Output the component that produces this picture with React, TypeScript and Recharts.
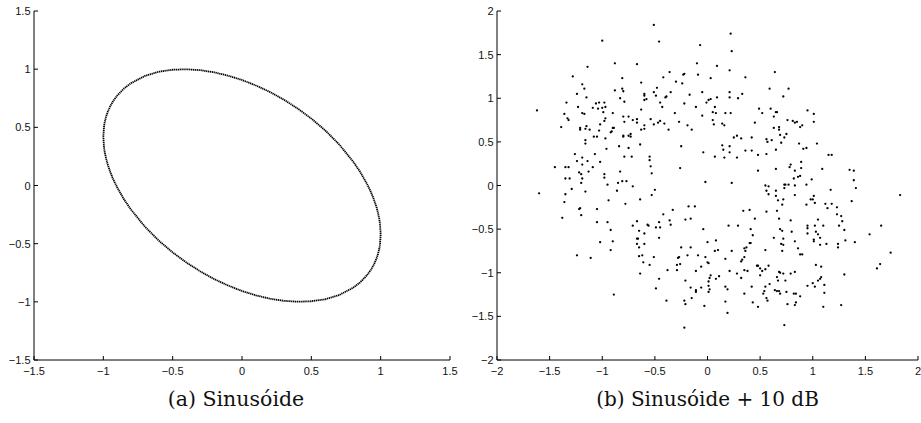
import React from 'react';
import { ScatterChart, Scatter, XAxis, YAxis } from 'recharts';

// (a) clean sinusoid: upper and lower branch of the ellipse
const ellipseUpper: [number, number][] = [
  [-1, 0.42], [-0.995, 0.509], [-0.99, 0.544], [-0.98, 0.592], [-0.97, 0.628], [-0.95, 0.682],
  [-0.93, 0.724], [-0.9, 0.773], [-0.85, 0.835], [-0.8, 0.88], [-0.7, 0.942], [-0.6, 0.978],
  [-0.5, 0.995], [-0.4, 0.999], [-0.3, 0.991], [-0.2, 0.973], [-0.1, 0.944], [0, 0.907],
  [0.1, 0.86], [0.2, 0.805], [0.3, 0.739], [0.4, 0.663], [0.5, 0.575], [0.6, 0.474],
  [0.7, 0.354], [0.8, 0.208], [0.85, 0.121], [0.9, 0.017], [0.93, -0.057], [0.95, -0.116],
  [0.97, -0.187], [0.98, -0.231], [0.99, -0.288], [0.995, -0.327], [1, -0.42],
];
const ellipseLower: [number, number][] = [
  [1, -0.42], [0.995, -0.509], [0.99, -0.544], [0.98, -0.592], [0.97, -0.628], [0.95, -0.682],
  [0.93, -0.724], [0.9, -0.773], [0.85, -0.835], [0.8, -0.88], [0.7, -0.942], [0.6, -0.978],
  [0.5, -0.995], [0.4, -0.999], [0.3, -0.991], [0.2, -0.973], [0.1, -0.944], [0, -0.907],
  [-0.1, -0.86], [-0.2, -0.805], [-0.3, -0.739], [-0.4, -0.663], [-0.5, -0.575], [-0.6, -0.474],
  [-0.7, -0.354], [-0.8, -0.208], [-0.85, -0.121], [-0.9, -0.017], [-0.93, 0.057], [-0.95, 0.116],
  [-0.97, 0.187], [-0.98, 0.231], [-0.99, 0.288], [-0.995, 0.327], [-1, 0.42],
];

// (b) sinusoid + 10 dB noise, one array per quadrant of the plot
const noisyUpperLeft: [number, number][] = [
  [-0.51, 1.84], [-1.0, 1.66], [-0.46, 1.65], [-1.14, 1.36], [-0.88, 1.4], [-0.67, 1.39], [-1.28, 1.25],
  [-0.81, 1.23], [-0.36, 1.3], [-0.42, 1.24], [-0.63, 1.18], [-0.23, 1.27], [-0.22, 1.28], [-1.19, 1.16],
  [-1.17, 1.11], [-1.24, 1.05], [-0.24, 1.17], [-0.3, 1.19], [-0.35, 1.07], [-0.51, 1.07], [-0.49, 1.03],
  [-0.48, 1.12], [-0.88, 1.09], [-0.81, 1.11], [-0.8, 1.08], [-0.6, 1.05], [-0.6, 1.03], [-0.4, 1.01],
  [-0.39, 1.02], [-0.83, 1.0], [-0.79, 0.96], [-1.15, 1.01], [-1.34, 0.95], [-0.45, 0.95], [-0.43, 0.9],
  [-0.17, 1.04], [-0.11, 0.9], [-1.36, 0.82], [-1.33, 0.77], [-1.32, 0.75], [-1.39, 0.67], [-1.62, 0.86],
  [-1.23, 0.9], [-1.19, 0.83], [-1.17, 0.82], [-1.21, 0.66], [-1.21, 0.64], [-1.15, 0.68], [-1.16, 0.65],
  [-1.09, 0.89], [-1.06, 0.94], [-1.03, 0.95], [-0.98, 0.95], [-0.97, 0.9], [-1.04, 0.88], [-1.0, 0.89],
  [-0.99, 0.84], [-0.97, 0.77], [-0.98, 0.74], [-1.02, 0.7], [-1.16, 0.52], [-1.16, 0.48], [-1.08, 0.56],
  [-1.05, 0.56], [-1.12, 0.64], [-0.97, 0.54], [-1.03, 0.63], [-0.91, 0.62], [-0.9, 0.66], [-0.89, 0.66],
  [-0.92, 0.61], [-0.9, 0.83], [-0.8, 0.79], [-0.79, 0.73], [-0.75, 0.79], [-0.71, 0.75], [-0.67, 0.76],
  [-0.67, 0.72], [-0.8, 0.57], [-0.8, 0.56], [-0.75, 0.57], [-0.73, 0.59], [-0.73, 0.56], [-0.84, 0.45],
  [-0.75, 0.43], [-0.79, 0.33], [-0.72, 0.33], [-0.64, 0.47], [-0.63, 0.64], [-0.6, 0.65], [-0.6, 0.69],
  [-0.63, 0.87], [-0.6, 0.98], [-0.58, 0.99], [-0.54, 0.76], [-0.51, 0.7], [-0.55, 0.33], [-0.55, 0.29],
  [-0.54, 0.22], [-0.53, 0.14], [-0.47, 0.72], [-0.45, 0.74], [-0.41, 0.71], [-0.37, 0.64], [-0.31, 0.83],
  [-0.27, 0.73], [-0.26, 0.2], [-0.25, 0.45], [-0.22, 0.94], [-0.19, 0.69], [-0.15, 0.64], [-1.45, 0.21],
  [-1.35, 0.21], [-1.32, 0.21], [-1.35, 0.08], [-1.31, 0.08], [-1.26, 0.36], [-1.24, 0.28], [-1.19, 0.24],
  [-1.19, 0.32], [-1.22, 0.15], [-1.2, 0.13], [-1.19, 0.08], [-1.14, 0.28], [-1.13, 0.16], [-1.09, 0.21],
  [-1.07, 0.36], [-1.02, 0.27], [-0.98, 0.13], [-0.98, 0.09], [-0.96, 0.42], [-0.83, 0.16],
];
const noisyUpperRight: [number, number][] = [
  [-0.07, 1.61], [0.22, 1.74], [0.23, 1.54], [-0.1, 1.4], [0.09, 1.37], [0.21, 1.32], [-0.09, 1.27],
  [0.03, 1.23], [0.36, 1.24], [0.64, 1.3], [-0.05, 1.07], [0.21, 1.07], [0.33, 1.05], [0.09, 1.01],
  [0.21, 1.01], [0.29, 1.0], [0.03, 0.99], [0.01, 0.98], [-0.01, 0.95], [0.59, 1.11], [0.77, 1.11],
  [0.72, 1.02], [0.07, 0.9], [0.05, 0.84], [0.08, 0.83], [0.17, 0.83], [0.22, 0.83], [-0.05, 0.8],
  [0.49, 0.88], [0.6, 0.88], [0.52, 0.83], [0.65, 0.84], [0.66, 0.84], [0.63, 0.79], [0.95, 0.86],
  [1.01, 0.82], [1.01, 0.73], [0.05, 0.75], [0.14, 0.71], [0.16, 0.69], [0.06, 0.7], [0.45, 0.72],
  [0.76, 0.75], [0.81, 0.74], [0.83, 0.72], [0.85, 0.73], [0.9, 0.69], [0.88, 0.67], [0.63, 0.66],
  [0.68, 0.67], [0.68, 0.64], [0.25, 0.55], [0.28, 0.57], [0.32, 0.54], [0.42, 0.55], [0.56, 0.53],
  [0.57, 0.5], [0.61, 0.52], [0.69, 0.58], [0.73, 0.55], [0.75, 0.59], [0.7, 0.49], [0.87, 0.48],
  [0.91, 0.42], [0.94, 0.43], [1.04, 0.48], [0.14, 0.46], [0.21, 0.45], [0.15, 0.41], [0.21, 0.38],
  [-0.04, 0.38], [0.07, 0.33], [0.16, 0.32], [0.28, 0.32], [0.36, 0.4], [0.42, 0.4], [0.48, 0.35],
  [0.56, 0.36], [0.65, 0.41], [1.15, 0.35], [1.18, 0.35], [0.89, 0.27], [0.79, 0.24], [0.78, 0.21],
  [0.65, 0.19], [0.83, 0.17], [0.89, 0.2], [1.09, 0.19], [0.48, 0.17], [0.86, 0.1], [0.88, 0.11],
  [0.82, 0.08], [0.99, 0.07], [1.35, 0.18], [1.39, 0.17],
];
const noisyLowerLeft: [number, number][] = [
  [-1.6, -0.09], [-1.35, -0.1], [-1.36, -0.19], [-1.38, -0.37], [-1.29, -0.04], [-1.2, 0.03], [-1.16, -0.07],
  [-1.22, -0.27], [-1.21, -0.26], [-1.2, -0.34], [-1.24, -0.8], [-1.11, -0.83], [-1.05, -0.27], [-1.05, -0.42],
  [-1.02, -0.65], [-0.95, 0.01], [-0.94, -0.17], [-0.95, -0.42], [-0.92, -0.51], [-0.9, -0.64], [-0.92, -0.74],
  [-0.89, -1.25], [-0.86, -0.06], [-0.85, 0.03], [-0.81, 0.05], [-0.77, 0.05], [-0.78, -0.21], [-0.71, -0.01],
  [-0.64, -0.16], [-0.71, -0.46], [-0.67, -0.41], [-0.65, -0.52], [-0.67, -0.61], [-0.66, -0.61], [-0.67, -0.67],
  [-0.65, -0.71], [-0.65, -0.81], [-0.62, -0.8], [-0.61, -0.88], [-0.64, -1.01], [-0.6, -0.55], [-0.6, -0.67],
  [-0.57, -0.45], [-0.56, -0.46], [-0.55, -0.91], [-0.53, -0.11], [-0.5, -0.05], [-0.49, -0.48], [-0.51, -0.82],
  [-0.46, -0.42], [-0.45, -0.48], [-0.46, -0.6], [-0.46, -1.07], [-0.49, -1.18], [-0.42, -0.33], [-0.39, -1.32],
  [-0.38, -0.97], [-0.36, -0.4], [-0.35, -0.45], [-0.33, -0.28], [-0.29, -0.97], [-0.28, -0.83], [-0.27, -0.82],
  [-0.29, -0.91], [-0.26, -0.9], [-0.25, -0.71], [-0.21, -0.39], [-0.22, -1.32], [-0.21, -1.36], [-0.22, -1.63],
  [-0.18, -0.24], [-0.21, -1.09], [-0.19, -0.8],
];
const noisyLowerRight: [number, number][] = [
  [1.39, 0.06], [-0.02, 0.04], [0.23, 0.03], [0.55, 0.0], [0.58, -0.01], [0.73, 0.01], [0.74, 0.01],
  [0.77, 0.01], [0.83, 0.0], [0.94, 0.01], [0.73, -0.03], [1.41, -0.03], [0.56, -0.06], [0.58, -0.1],
  [0.65, -0.06], [0.65, -0.12], [0.83, -0.11], [1.01, -0.12], [0.98, -0.16], [1.0, -0.16], [1.02, -0.2],
  [1.17, -0.05], [1.37, -0.18], [1.83, -0.11], [0.67, -0.17], [0.72, -0.16], [0.71, -0.22], [0.94, -0.22],
  [1.12, -0.21], [1.14, -0.26], [1.18, -0.21], [1.23, -0.25], [1.23, -0.33], [1.27, -0.35], [1.28, -0.41],
  [1.25, -0.46], [1.3, -0.51], [1.31, -0.63], [1.24, -0.67], [1.24, -0.71], [1.4, -0.65], [1.54, -0.56],
  [1.65, -0.46], [1.74, -0.77], [1.64, -0.9], [1.61, -0.95], [1.3, -1.02], [1.27, -1.37], [1.1, -1.39],
  [1.11, -1.23], [1.11, -1.14], [1.03, -0.91], [1.08, -0.93], [1.08, -1.05], [1.07, -1.07], [1.05, -1.09],
  [1.02, -1.16], [1.0, -1.12], [0.95, -1.15], [1.05, -0.39], [1.1, -0.46], [1.02, -0.46], [0.95, -0.46],
  [0.95, -0.49], [0.95, -0.55], [1.03, -0.53], [1.05, -0.56], [1.07, -0.6], [1.01, -0.62], [1.01, -0.64],
  [1.07, -0.68], [1.13, -0.67], [0.8, -0.53], [0.79, -0.4], [0.68, -0.38], [0.66, -0.29], [0.56, -0.3],
  [0.69, -0.5], [0.71, -0.52], [0.63, -0.6], [0.72, -0.61], [0.7, -0.67], [0.72, -0.68], [0.71, -0.75],
  [0.83, -0.64], [0.86, -0.72], [0.88, -0.79], [0.9, -0.79], [0.55, -0.74], [0.45, -0.38], [0.4, -0.28],
  [0.34, -0.29], [0.29, -0.46], [0.2, -0.46], [0.41, -0.5], [0.43, -0.57], [0.41, -0.66], [0.4, -0.66],
  [0.36, -0.75], [0.35, -0.72], [0.37, -0.71], [0.33, -0.85], [0.32, -0.87], [0.35, -0.82], [0.23, -0.75],
  [0.17, -0.84], [0.08, -0.63], [0.1, -0.74], [0.07, -0.75], [0.0, -0.65], [-0.04, -0.5], [-0.02, -0.82],
  [-0.09, -0.8], [-0.16, -0.71], [-0.12, -0.24], [-0.16, -0.38], [-0.06, -0.93], [-0.11, -0.98], [0.0, -0.88],
  [0.01, -0.89], [0.03, -1.03], [0.02, -1.06], [0.01, -1.1], [0.01, -1.15], [0.02, -1.19], [0.01, -1.22],
  [0.08, -1.07], [0.11, -1.04], [-0.06, -1.17], [-0.16, -1.17], [-0.11, -1.2], [-0.11, -1.22], [-0.15, -1.29],
  [-0.03, -1.38], [0.17, -1.16], [0.19, -1.19], [0.17, -1.33], [0.19, -1.46], [0.21, -0.98], [0.28, -1.01],
  [0.32, -1.06], [0.35, -0.97], [0.38, -0.98], [0.35, -1.24], [0.42, -1.16], [0.43, -1.34], [0.48, -1.39],
  [0.47, -0.92], [0.48, -0.92], [0.5, -0.95], [0.52, -0.98], [0.5, -1.03], [0.58, -0.92], [0.55, -0.96],
  [0.59, -1.13], [0.55, -1.16], [0.54, -1.21], [0.53, -1.24], [0.56, -1.29], [0.57, -1.32], [0.66, -1.05],
  [0.67, -1.09], [0.68, -0.99], [0.69, -1.0], [0.72, -1.01], [0.74, -1.09], [0.64, -1.2], [0.66, -1.21],
  [0.68, -1.21], [0.69, -1.24], [0.75, -1.22], [0.79, -1.01], [0.83, -0.99], [0.82, -1.24], [0.84, -1.24],
  [0.88, -1.27], [0.76, -1.36], [0.84, -1.34], [0.83, -1.37], [0.73, -1.6],
];

const ticksA = [-1.5, -1, -0.5, 0, 0.5, 1, 1.5];
const ticksB = [-2, -1.5, -1, -0.5, 0, 0.5, 1, 1.5, 2];
const captionA = '(a) Sinusóide';
const captionB = '(b) Sinusóide + 10 dB';

const toPoints = (arr: [number, number][]) => arr.map(([x, y]) => ({ x, y }));
const ellipseData = toPoints([...ellipseUpper, ...ellipseLower.slice(1)]);
const noisyData = toPoints([...noisyUpperLeft, ...noisyUpperRight, ...noisyLowerLeft, ...noisyLowerRight]);

const tickFont = '"Liberation Sans", Arial, Helvetica, sans-serif';
const captionFont = '"DejaVu Serif", "Liberation Serif", serif';
const fmt = (v: number) => String(v).replace('-', '\u2212');

// MATLAB style ticks: marks point into the plot, labels outside
const XTick = ({ x, y, payload }: any) => (
  <g>
    <line x1={x} y1={y} x2={x} y2={y - 4} stroke="#000" strokeWidth={1} />
    <text x={x} y={y + 15} textAnchor="middle" fontSize={11} fill="#111" fontFamily={tickFont}>
      {fmt(payload.value)}
    </text>
  </g>
);

const YTick = ({ x, y, payload }: any) => (
  <g>
    <line x1={x} y1={y} x2={x + 4} y2={y} stroke="#000" strokeWidth={1} />
    <text x={x - 3.5} y={y + 4} textAnchor="end" fontSize={11} fill="#111" fontFamily={tickFont}>
      {fmt(payload.value)}
    </text>
  </g>
);

const Dot = ({ cx, cy }: any) => <circle cx={cx} cy={cy} r={1.15} fill="#000" />;
const NoDot = () => <g />;

export default function App() {
  return (
    <div style={{ position: 'absolute', left: 0, top: 0, width: 921, height: 423, background: '#fff' }}>
      <div style={{ position: 'absolute', left: 0, top: 0 }}>
        <ScatterChart width={460} height={423} margin={{ top: 11, right: 10, bottom: 0, left: 0 }}>
          <XAxis
            type="number"
            dataKey="x"
            domain={[-1.5, 1.5]}
            ticks={ticksA}
            interval={0}
            height={63}
            tickSize={0}
            tickMargin={0}
            tickLine={false}
            axisLine={{ stroke: '#000' }}
            tick={<XTick />}
          />
          <YAxis
            type="number"
            dataKey="y"
            domain={[-1.5, 1.5]}
            ticks={ticksA}
            interval={0}
            width={34}
            tickSize={0}
            tickMargin={0}
            tickLine={false}
            axisLine={{ stroke: '#000' }}
            tick={<YTick />}
          />
          <Scatter
            data={ellipseData}
            line={{ stroke: '#000', strokeWidth: 1.8, strokeDasharray: '1.3 0.6' }}
            lineType="joint"
            shape={<NoDot />}
            isAnimationActive={false}
          />
        </ScatterChart>
      </div>
      <div style={{ position: 'absolute', left: 463, top: 0 }}>
        <ScatterChart width={458} height={423} margin={{ top: 11, right: 3, bottom: 0, left: 0 }}>
          <XAxis
            type="number"
            dataKey="x"
            domain={[-2, 2]}
            ticks={ticksB}
            interval={0}
            height={63}
            tickSize={0}
            tickMargin={0}
            tickLine={false}
            axisLine={{ stroke: '#000' }}
            tick={<XTick />}
          />
          <YAxis
            type="number"
            dataKey="y"
            domain={[-2, 2]}
            ticks={ticksB}
            interval={0}
            width={34}
            tickSize={0}
            tickMargin={0}
            tickLine={false}
            axisLine={{ stroke: '#000' }}
            tick={<YTick />}
          />
          <Scatter data={noisyData} fill="#000" shape={<Dot />} isAnimationActive={false} />
        </ScatterChart>
      </div>
      <svg width={921} height={423} style={{ position: 'absolute', left: 0, top: 0, pointerEvents: 'none' }}>
        <text x={236} y={406} textAnchor="middle" fontSize={20.5} fill="#111" fontFamily={captionFont}>
          {captionA}
        </text>
        <text x={707.5} y={406} textAnchor="middle" fontSize={20} fill="#111" fontFamily={captionFont}>
          {captionB}
        </text>
      </svg>
    </div>
  );
}
